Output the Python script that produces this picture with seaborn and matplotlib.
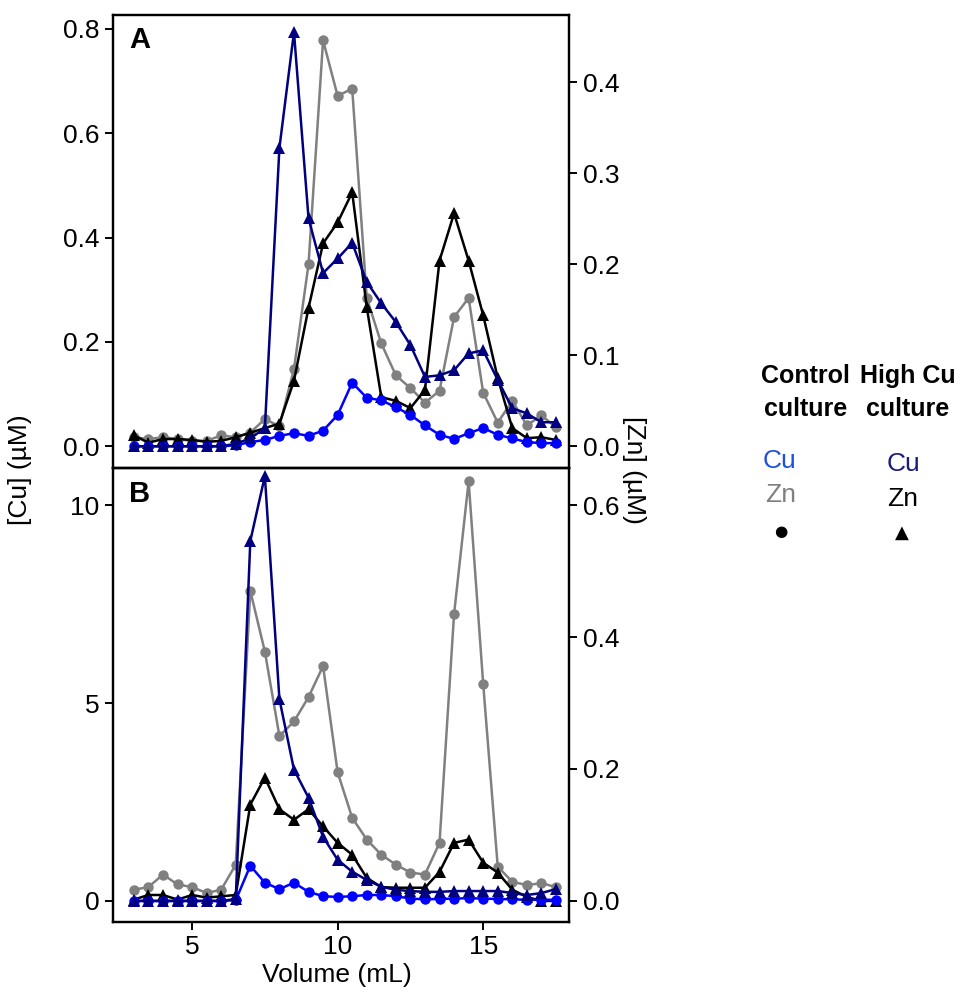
import numpy as np
import pandas as pd
import seaborn as sns
from matplotlib import pyplot as plt

sns.set_theme(style="ticks")
plt.rcParams['font.family'] = ['Liberation Sans', 'DejaVu Sans']
plt.rcParams['text.color'] = 'black'
plt.rcParams['axes.labelcolor'] = 'black'

volume = [3.0, 3.5, 4.0, 4.5, 5.0, 5.5, 6.0, 6.5, 7.0, 7.5, 8.0, 8.5, 9.0, 9.5, 10.0,
          10.5, 11.0, 11.5, 12.0, 12.5, 13.0, 13.5, 14.0, 14.5, 15.0, 15.5, 16.0, 16.5, 17.0, 17.5]

# panel A
a_ctrl_cu = [0, 0, 0, 0, 0, 0, 0, 0.002, 0.008, 0.012, 0.02, 0.025, 0.02, 0.03, 0.06,
             0.122, 0.093, 0.088, 0.075, 0.06, 0.04, 0.022, 0.014, 0.025, 0.035, 0.022, 0.015, 0.008, 0.006, 0.006]
a_high_cu = [0, 0, 0, 0, 0, 0, 0, 0.005, 0.015, 0.035, 0.572, 0.794, 0.437, 0.332, 0.36,
             0.39, 0.315, 0.274, 0.238, 0.194, 0.133, 0.136, 0.146, 0.178, 0.184, 0.127, 0.073, 0.063, 0.046, 0.046]
a_ctrl_zn = [0.01, 0.008, 0.01, 0.008, 0.006, 0.006, 0.012, 0.01, 0.015, 0.03, 0.022, 0.085, 0.2, 0.446, 0.385,
             0.393, 0.163, 0.113, 0.078, 0.064, 0.048, 0.061, 0.142, 0.163, 0.059, 0.026, 0.05, 0.023, 0.034, 0.021]
a_high_zn = [0.012, 0.004, 0.008, 0.008, 0.007, 0.005, 0.006, 0.01, 0.015, 0.02, 0.025, 0.072, 0.152, 0.223, 0.246,
             0.279, 0.153, 0.054, 0.05, 0.042, 0.062, 0.204, 0.256, 0.204, 0.144, 0.075, 0.02, 0.009, 0.01, 0.007]

# panel B
b_ctrl_cu = [0, 0, 0, 0, 0, 0, 0, 0.02, 0.89, 0.46, 0.3, 0.46, 0.23, 0.12, 0.1,
             0.12, 0.15, 0.15, 0.12, 0.06, 0.04, 0.05, 0.06, 0.07, 0.06, 0.05, 0.04, 0.03, 0.03, 0.03]
b_high_cu = [0, 0, 0, 0, 0, 0, 0, 0.05, 9.1, 10.74, 5.1, 3.32, 2.61, 1.62, 1.04,
             0.74, 0.53, 0.36, 0.28, 0.25, 0.23, 0.23, 0.25, 0.25, 0.25, 0.25, 0.2, 0.15, 0.2, 0.3]
b_ctrl_zn = [0.017, 0.021, 0.04, 0.025, 0.021, 0.012, 0.017, 0.055, 0.47, 0.378, 0.25, 0.272, 0.309, 0.356, 0.195,
             0.126, 0.093, 0.07, 0.055, 0.043, 0.04, 0.088, 0.435, 0.636, 0.329, 0.052, 0.029, 0.024, 0.027, 0.021]
b_high_zn = [0.002, 0.009, 0.009, 0.002, 0.009, 0.005, 0.007, 0.009, 0.146, 0.187, 0.139, 0.123, 0.139, 0.113, 0.088,
             0.07, 0.035, 0.021, 0.02, 0.02, 0.02, 0.044, 0.088, 0.093, 0.058, 0.043, 0.017, 0.006, 0.0, 0.0]

BLUE = '#0000ff'
NAVY = '#000080'
GREY = '#808080'
BLACK = '#000000'
FS = 19


def style_axis(ax):
    for s in ax.spines.values():
        s.set_linewidth(1.6)
        s.set_color('black')
    ax.tick_params(axis='both', direction='out', length=6, width=1.4, labelsize=FS,
                   colors='black', labelcolor='black')
    ax.set_xlabel('')
    ax.set_ylabel('')


def panel(ax, ctrl_cu, high_cu, ctrl_zn, high_zn, ylim_cu, ylim_zn, cu_ticks, zn_ticks, cu_fmt, letter):
    df = pd.DataFrame({'vol': volume, 'ctrl_cu': ctrl_cu, 'high_cu': high_cu,
                       'ctrl_zn': ctrl_zn, 'high_zn': high_zn})
    ax2 = ax.twinx()
    sns.lineplot(data=df, x='vol', y='ctrl_zn', ax=ax2, color=GREY, marker='o', markersize=7.5,
                 markeredgewidth=0, linewidth=1.8)
    sns.lineplot(data=df, x='vol', y='high_zn', ax=ax2, color=BLACK, marker='^', markersize=9,
                 markeredgewidth=0, linewidth=1.8)
    sns.lineplot(data=df, x='vol', y='ctrl_cu', ax=ax, color=BLUE, marker='o', markersize=7.5,
                 markeredgewidth=0, linewidth=1.8)
    sns.lineplot(data=df, x='vol', y='high_cu', ax=ax, color=NAVY, marker='^', markersize=9,
                 markeredgewidth=0, linewidth=1.8)
    ax.set_zorder(ax2.get_zorder() + 1)
    ax.patch.set_visible(False)
    ax.set_xlim(2.28, 17.96)
    ax.set_ylim(*ylim_cu)
    ax2.set_ylim(*ylim_zn)
    ax.set_yticks(cu_ticks)
    ax.set_yticklabels([cu_fmt.format(t) for t in cu_ticks])
    ax2.set_yticks(zn_ticks)
    ax2.set_yticklabels(['{:.1f}'.format(t) for t in zn_ticks])
    ax.set_xticks([5, 10, 15])
    style_axis(ax)
    style_axis(ax2)
    ax.text(0.035, 0.975, letter, transform=ax.transAxes, fontsize=21, fontweight='bold',
            va='top', ha='left', color='black')
    return ax2


fig = plt.figure(figsize=(9.65, 9.94), dpi=100)
axA = fig.add_axes([0.117, 0.529, 0.473, 0.456])
axB = fig.add_axes([0.117, 0.0724, 0.473, 0.4566])

panel(axA, a_ctrl_cu, a_high_cu, a_ctrl_zn, a_high_zn, (-0.042, 0.827), (-0.024, 0.474),
      [0.0, 0.2, 0.4, 0.6, 0.8], [0.0, 0.1, 0.2, 0.3, 0.4], '{:.1f}', 'A')
panel(axB, b_ctrl_cu, b_high_cu, b_ctrl_zn, b_high_zn, (-0.533, 10.94), (-0.032, 0.656),
      [0, 5, 10], [0.0, 0.2, 0.4, 0.6], '{:.0f}', 'B')
axA.tick_params(axis='x', bottom=False, labelbottom=False)

fig.text(0.021, 0.527, '[Cu] (\u00b5M)', rotation=90, ha='center', va='center', fontsize=FS)
fig.text(0.657, 0.527, '[Zn] (\u00b5M)', rotation=270, ha='center', va='center', fontsize=FS)
fig.text(0.349, 0.019, 'Volume (mL)', ha='center', va='center', fontsize=FS)

# legend built from text
fig.text(0.835, 0.605, 'Control\nculture', ha='center', va='center', fontsize=18,
         fontweight='bold', linespacing=1.45)
fig.text(0.941, 0.605, 'High Cu\nculture', ha='center', va='center', fontsize=18,
         fontweight='bold', linespacing=1.45)
fig.text(0.808, 0.536, 'Cu', ha='center', va='center', fontsize=FS, color='#1f4fe0')
fig.text(0.809, 0.502, 'Zn', ha='center', va='center', fontsize=FS, color=GREY)
fig.text(0.809, 0.465, '\u25cf', ha='center', va='center', fontsize=11, color=BLACK,
         family='DejaVu Sans')
fig.text(0.936, 0.533, 'Cu', ha='center', va='center', fontsize=FS, color='#1c1c7a')
fig.text(0.935, 0.498, 'Zn', ha='center', va='center', fontsize=FS, color=BLACK)
fig.text(0.935, 0.464, '\u25b2', ha='center', va='center', fontsize=13, color=BLACK,
         family='DejaVu Sans')

fig.savefig('out.png', dpi=100)
